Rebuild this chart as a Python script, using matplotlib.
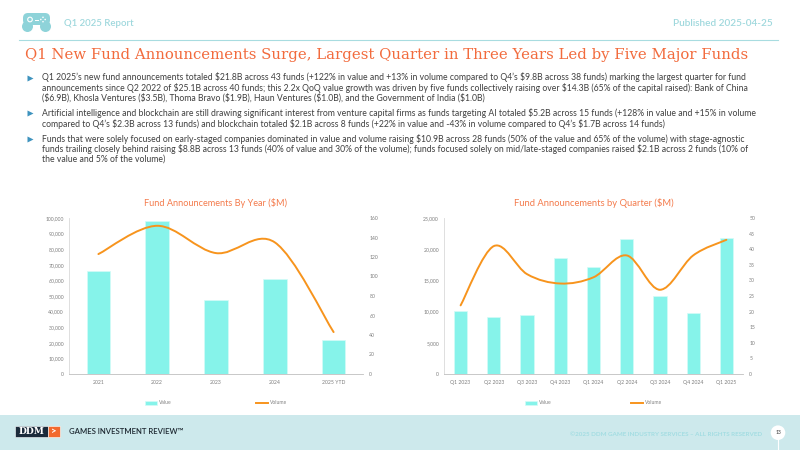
import numpy as np
import matplotlib
matplotlib.use('Agg')
import matplotlib.pyplot as plt
from matplotlib.path import Path
from matplotlib.patches import PathPatch, FancyBboxPatch, Rectangle, Circle, Ellipse
from matplotlib.lines import Line2D
from matplotlib.ticker import StrMethodFormatter, MultipleLocator

# data
years = ['2021', '2022', '2023', '2024', '2025 YTD']
year_value = [66200, 98000, 47300, 61200, 21800]
year_volume = [123, 152, 124, 135, 43]

quarters = ['Q1 2023', 'Q2 2023', 'Q3 2023', 'Q4 2023', 'Q1 2024',
            'Q2 2024', 'Q3 2024', 'Q4 2024', 'Q1 2025']
quarter_value = [10100, 9200, 9400, 18600, 17200, 21700, 12500, 9800, 21800]
quarter_volume = [22, 41, 32, 29, 31, 38, 27, 38, 43]

title = 'Q1 New Fund Announcements Surge, Largest Quarter in Three Years Led by Five Major Funds'
bullets = [
    ["Q1 2025\u2019s new fund announcements totaled $21.8B across 43 funds (+122% in value and +13% in volume compared to Q4\u2019s $9.8B across 38 funds) marking the largest quarter for fund",
     "announcements since Q2 2022 of $25.1B across 40 funds; this 2.2x QoQ value growth was driven by five funds collectively raising over $14.3B (65% of the capital raised): Bank of China",
     "($6.9B), Khosla Ventures ($3.5B), Thoma Bravo ($1.9B), Haun Ventures ($1.0B), and the Government of India ($1.0B)"],
    ["Artificial intelligence and blockchain are still drawing significant interest from venture capital firms as funds targeting AI totaled $5.2B across 15 funds (+128% in value and +15% in volume",
     "compared to Q4\u2019s $2.3B across 13 funds) and blockchain totaled $2.1B across 8 funds (+22% in value and -43% in volume compared to Q4\u2019s $1.7B across 14 funds)"],
    ["Funds that were solely focused on early-staged companies dominated in value and volume raising $10.9B across 28 funds (50% of the value and 65% of the volume) with stage-agnostic",
     "funds trailing closely behind raising $8.8B across 13 funds (40% of value and 30% of the volume); funds focused solely on mid/late-staged companies raised $2.1B across 2 funds (10% of",
     "the value and 5% of the volume)"],
]

W, H = 800, 450
BAR = '#86F3EA'
LINE = '#F7941D'
ORANGE = '#F26B3D'
TEAL = '#9FD8DD'
GREY = '#7F7F7F'
TEXT = '#3F3F3F'

plt.rcParams['font.family'] = ['Lato', 'DejaVu Sans']

fig = plt.figure(figsize=(8, 4.5), dpi=100)
fig.patch.set_facecolor('white')
renderer = fig.canvas.get_renderer()

# pixel-space layer for the page furniture
bg = fig.add_axes([0, 0, 1, 1])
bg.set_xlim(0, W)
bg.set_ylim(H, 0)
bg.axis('off')
bg.set_zorder(0)


def fit(t, width):
    """scale a text so it spans width pixels"""
    bb = t.get_window_extent(renderer)
    t.set_fontsize(t.get_fontsize() * width / bb.width)
    return t.get_fontsize()


# header
bg.add_patch(FancyBboxPatch((23, 13), 27, 12, boxstyle='round,pad=0,rounding_size=5', fc='#8ED3D9', ec='none'))
bg.add_patch(Ellipse((27.5, 26.5), 11, 11, fc='#8ED3D9', ec='none'))
bg.add_patch(Ellipse((45.5, 26.5), 11, 11, fc='#8ED3D9', ec='none'))
bg.add_patch(Circle((30, 19.5), 2.3, fc='none', ec='white', lw=0.8))
for dx, dy in [(0, -2.2), (0, 2.2), (-2.2, 0), (2.2, 0)]:
    bg.add_patch(Circle((43 + dx, 19.5 + dy), 0.8, fc='white', ec='none'))
bg.plot([35, 38], [19.5, 19.5], color='white', lw=0.7)

t = bg.text(64, 23, 'Q1 2025 Report', color=TEAL, fontsize=6, fontweight='semibold', va='center', ha='left')
fit(t, 70)
t = bg.text(773, 23, 'Published 2025-04-25', color=TEAL, fontsize=6, fontweight='semibold', va='center', ha='right')
fit(t, 100)
bg.plot([19, 778], [39.5, 39.5], color='#A8DCE0', lw=0.8)

t = bg.text(25, 55, title, color=ORANGE, fontsize=11, family='DejaVu Serif', va='center', ha='left')
fit(t, 717)

# bullets
t = bg.text(42, 77.5, bullets[0][0], fontsize=6, color=TEXT, va='center', ha='left', parse_math=False)
bsize = fit(t, 700)
t.remove()
starts = [77.5, 113.3, 138.7]
for lines, y0 in zip(bullets, starts):
    bg.plot(29.5, y0, marker='>', color='#3E93BE', markersize=4.2, mec='none')
    for k, line in enumerate(lines):
        bg.text(42, y0 + k * 10.3, line, fontsize=bsize, color=TEXT, va='center', ha='left', parse_math=False)


def smooth_line(ax, values, **kw):
    """Excel style smoothed line through the points (cubic bezier segments)"""
    pts = np.column_stack([np.arange(len(values)), values]).astype(float)
    n = len(pts)
    verts = [pts[0]]
    codes = [Path.MOVETO]
    for i in range(n - 1):
        p0 = pts[max(i - 1, 0)]
        p1 = pts[i]
        p2 = pts[i + 1]
        p3 = pts[min(i + 2, n - 1)]
        verts += [p1 + (p2 - p0) / 6., p2 - (p3 - p1) / 6., p2]
        codes += [Path.CURVE4] * 3
    patch = PathPatch(Path(verts, codes), fill=False, **kw)
    ax.add_patch(patch)
    return patch


def draw_chart(x0, x1, cats, vals, vols, vmax, vstep, volmax, volstep, name, name_w, colsp):
    top, bottom = 218, 374
    ax = fig.add_axes([x0 / W, 1 - bottom / H, (x1 - x0) / W, (bottom - top) / H])
    ax.set_zorder(1)
    ax.set_facecolor('none')
    bars = ax.bar(cats, vals, width=0.4, color=BAR, edgecolor='#D4FBF7', linewidth=0.5)
    ax.set_xlim(-0.5, len(cats) - 0.5)
    ax.set_ylim(0, vmax)
    ax.yaxis.set_major_locator(MultipleLocator(vstep))
    ax.yaxis.set_major_formatter(StrMethodFormatter('{x:,.0f}'))
    for s in ['top', 'right']:
        ax.spines[s].set_visible(False)
    ax.spines['left'].set_color('#D9D9D9')
    ax.spines['bottom'].set_color('#BFBFBF')
    ax.spines['left'].set_linewidth(0.6)
    ax.spines['bottom'].set_linewidth(0.6)
    ax.tick_params(axis='y', length=0, pad=3.6, labelsize=3.7, labelcolor=GREY)
    ax.tick_params(axis='x', length=0, pad=4.5, labelsize=3.7, labelcolor=GREY)

    ax2 = ax.twinx()
    ax2.set_ylim(0, volmax)
    ax2.yaxis.set_major_locator(MultipleLocator(volstep))
    for s in ax2.spines.values():
        s.set_visible(False)
    ax2.tick_params(axis='y', length=0, pad=4.5, labelsize=3.7, labelcolor=GREY)
    smooth_line(ax2, vols, ec=LINE, lw=1.4, capstyle='round')

    cx = (x0 + x1) / 2.
    t = bg.text(cx, 202.7, name, color='#F47B4C', fontsize=6, ha='center', va='center')
    fit(t, name_w)

    handle = Line2D([], [], color=LINE, lw=1.4)
    fig.legend([bars, handle], ['Value', 'Volume'], loc='center', bbox_to_anchor=(cx / W, 1 - 403 / H),
               ncol=2, frameon=False, fontsize=3.6, handlelength=2.4, handleheight=0.85,
               columnspacing=colsp, handletextpad=0.4, labelcolor=GREY)
    return ax


draw_chart(69, 363, years, year_value, year_volume, 100000, 10000, 160, 20,
           'Fund Announcements By Year ($M)', 144, 17.0)
draw_chart(444, 743, quarters, quarter_value, quarter_volume, 25000, 5000, 50, 5,
           'Fund Announcements by Quarter ($M)', 160, 16.0)

# footer
bg.add_patch(Rectangle((0, 415), W, 35, fc='#CDE9EC', ec='none'))
bg.add_patch(Rectangle((15, 426), 32.7, 10.7, fc='#1B2B3B', ec='white', lw=0.4))
bg.add_patch(Rectangle((48.3, 426), 11.7, 10.7, fc='#F26A2E', ec='white', lw=0.4))
t = bg.text(31.3, 431.6, 'DDM', color='white', fontsize=6, family='DejaVu Serif', fontweight='bold',
            ha='center', va='center')
fit(t, 26)
bg.text(54.2, 431.4, '>', color='white', fontsize=7, fontweight='bold', ha='center', va='center')
t = bg.text(69, 432, 'GAMES INVESTMENT REVIEW\u2122', color='#1F2A33', fontsize=5, fontweight='semibold',
            ha='left', va='center')
fit(t, 116)
t = bg.text(762, 434, '\u00a92025 DDM GAME INDUSTRY SERVICES \u2013 ALL RIGHTS RESERVED', color='#A3DDE2',
            fontsize=4.5, fontweight='bold', ha='right', va='center')
fit(t, 192)
bg.plot([778, 778], [438, 450], color='white', lw=0.8)
bg.add_patch(Circle((778, 432.7), 7.3, fc='white', ec='none'))
bg.text(778, 432.7, '13', color='#333333', fontsize=3.6, ha='center', va='center')

fig.savefig('out.png', dpi=100, facecolor='white')
